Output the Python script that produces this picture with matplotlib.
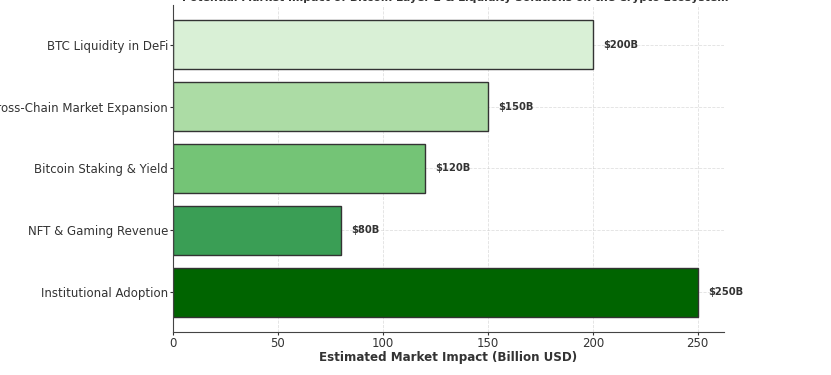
import matplotlib.pyplot as plt

# data (bottom to top)
categories = ["Institutional Adoption", "NFT & Gaming Revenue", "Bitcoin Staking & Yield",
              "Cross-Chain Market Expansion", "BTC Liquidity in DeFi"]
impact = [250, 80, 120, 150, 200]
bar_colors = ["#006400", "#3a9e55", "#74c476", "#acdca5", "#d9f0d6"]
value_labels = ["$250B", "$80B", "$120B", "$150B", "$200B"]

fig = plt.figure(figsize=(8.31, 3.75), dpi=100)
ax = fig.add_axes([0.2082, 0.1147, 0.6630, 0.872])

bars = ax.barh(categories, impact, color=bar_colors, edgecolor="#333333", linewidth=1.0, height=0.8)

for b, lab in zip(bars, value_labels):
    ax.text(b.get_width() + 5, b.get_y() + b.get_height() / 2, lab,
            va="center", ha="left", fontsize=7.2, fontweight="bold", color="#333333")

ax.set_xlim(0, 262.5)
ax.set_xticks([0, 50, 100, 150, 200, 250])
ax.grid(True, linestyle="--", linewidth=0.6, color="#cccccc", alpha=0.6)
ax.set_axisbelow(True)
ax.spines["top"].set_visible(False)
ax.spines["right"].set_visible(False)
ax.spines["left"].set_color("#444444")
ax.spines["bottom"].set_color("#444444")
ax.tick_params(labelsize=8.5, colors="#333333", length=2, pad=1.5)
ax.set_xlabel("Estimated Market Impact (Billion USD)", fontsize=8.6, fontweight="bold",
              color="#333333", labelpad=1)

# title sits mostly above the visible area, as in the cropped original
fig.text(0.548, 0.992, "Potential Market Impact of Bitcoin Layer 2 & Liquidity Solutions on the Crypto Ecosystem",
         ha="center", va="bottom", fontsize=7.8, fontweight="bold", color="#333333")

fig.savefig("out.png", dpi=100)
